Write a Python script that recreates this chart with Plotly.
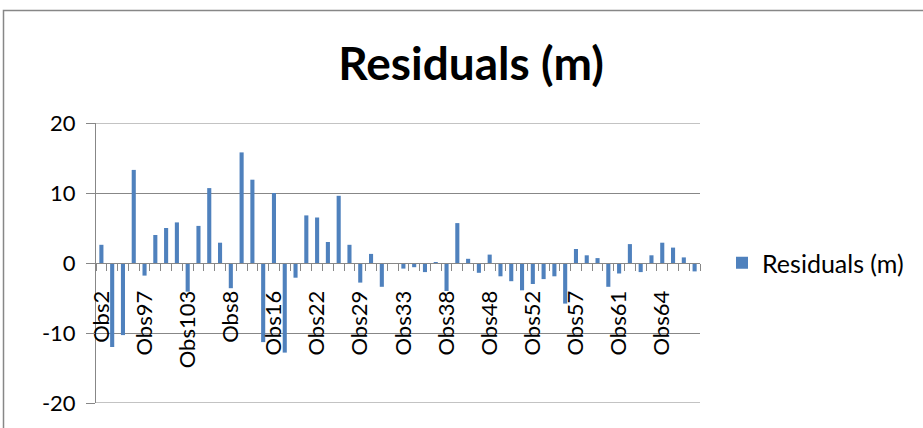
import plotly.graph_objects as go

# Observation labels (every fourth one is printed on the axis)
obs_names = [
    "Obs2", "Obs3", "Obs4", "Obs5",
    "Obs97", "Obs98", "Obs99", "Obs100",
    "Obs103", "Obs104", "Obs105", "Obs6",
    "Obs8", "Obs9", "Obs10", "Obs13",
    "Obs16", "Obs17", "Obs19", "Obs20",
    "Obs22", "Obs25", "Obs26", "Obs27",
    "Obs29", "Obs30", "Obs31", "Obs32",
    "Obs33", "Obs34", "Obs35", "Obs36",
    "Obs38", "Obs41", "Obs43", "Obs46",
    "Obs48", "Obs49", "Obs50", "Obs51",
    "Obs52", "Obs53", "Obs55", "Obs56",
    "Obs57", "Obs58", "Obs59", "Obs60",
    "Obs61", "Obs62", "Obs63", "Obs107",
    "Obs64", "Obs65", "Obs66", "Obs67",
]

# Residual per observation, metres
residuals_m = [
    2.6, -12.0, -10.3, 13.3,
    -1.8, 4.0, 5.0, 5.8,
    -4.1, 5.3, 10.7, 2.9,
    -3.6, 15.8, 11.9, -11.3,
    10.0, -12.8, -2.1, 6.8,
    6.5, 3.0, 9.6, 2.6,
    -2.8, 1.3, -3.4, -0.1,
    -0.8, -0.6, -1.3, 0.1,
    -4.0, 5.7, 0.6, -1.4,
    1.2, -1.9, -2.6, -3.9,
    -3.0, -2.3, -1.9, -5.8,
    2.0, 1.1, 0.7, -3.4,
    -1.5, 2.7, -1.3, 1.1,
    2.9, 2.2, 0.8, -1.2,
]

y_ticks = [-20, -10, 0, 10, 20]
y_tick_text = [str(v) for v in y_ticks]  # plain hyphen for negatives
label_step = 4
tick_text = [n if i % label_step == 0 else "" for i, n in enumerate(obs_names)]

FONT = "Lato, Calibri, sans-serif"
GRAY = "#878787"
BLUE = "#4F81BD"

W, H = 923, 428
ML, MR, MT, MB = 96, 223, 123, 25
PW, PH = W - ML - MR, H - MT - MB

fig = go.Figure(
    go.Bar(
        x=obs_names,
        y=residuals_m,
        name="Residuals (m)",
        marker=dict(color=BLUE, line=dict(width=0)),
        showlegend=True,
    )
)

# Plotly skips gridlines lying on the plot edges, so the outer
# ones (top and bottom tick values) are drawn as lines here.
edge_grid = [
    dict(
        type="line",
        xref="paper",
        yref="y",
        x0=0,
        x1=1,
        y0=v,
        y1=v,
        line=dict(color=GRAY, width=1),
        layer="below",
    )
    for v in (y_ticks[0], y_ticks[-1])
]

frame = dict(
    type="rect",
    xref="paper",
    yref="paper",
    x0=(3.5 - ML) / PW,
    x1=(W + 20 - ML) / PW,
    y0=(H - MB - (H + 20)) / PH,
    y1=(H - MB - 10.5) / PH,
    line=dict(color=GRAY, width=1.5),
    fillcolor="rgba(0,0,0,0)",
    layer="below",
)

fig.update_layout(
    width=W,
    height=H,
    margin=dict(l=ML, r=MR, t=MT, b=MB, pad=0),
    paper_bgcolor="white",
    plot_bgcolor="white",
    bargap=0.62,
    font=dict(family=FONT, color="black", size=22),
    title=dict(
        text="<b>Residuals (m)</b>",
        font=dict(family=FONT, size=46, color="black"),
        x=471 / W,
        xref="container",
        xanchor="center",
        y=1 - 64 / H,
        yref="container",
        yanchor="middle",
    ),
    showlegend=True,
    legend=dict(
        x=(722 - ML) / PW,
        xanchor="left",
        y=0.5,
        yanchor="middle",
        font=dict(family=FONT, size=25, color="black"),
        bgcolor="rgba(0,0,0,0)",
        borderwidth=0,
    ),
    xaxis=dict(
        type="category",
        anchor="free",
        position=0.5,
        tickmode="array",
        tickvals=obs_names,
        ticktext=tick_text,
        tickangle=-90,
        tickson="boundaries",
        ticks="outside",
        ticklen=7,
        tickwidth=1,
        tickcolor=GRAY,
        ticklabelstandoff=18,
        showline=True,
        linecolor=GRAY,
        linewidth=1,
        showgrid=False,
        zeroline=False,
        tickfont=dict(family=FONT, size=22, color="black"),
    ),
    yaxis=dict(
        range=[y_ticks[0], y_ticks[-1]],
        tickmode="array",
        tickvals=y_ticks,
        ticktext=y_tick_text,
        ticks="outside",
        ticklen=9,
        tickwidth=1,
        tickcolor=GRAY,
        ticklabelstandoff=6,
        showline=True,
        linecolor=GRAY,
        linewidth=1,
        showgrid=True,
        gridcolor=GRAY,
        gridwidth=1,
        zeroline=False,
        tickfont=dict(family=FONT, size=22, color="black"),
    ),
    shapes=edge_grid + [frame],
)

fig.write_html("out.html")
